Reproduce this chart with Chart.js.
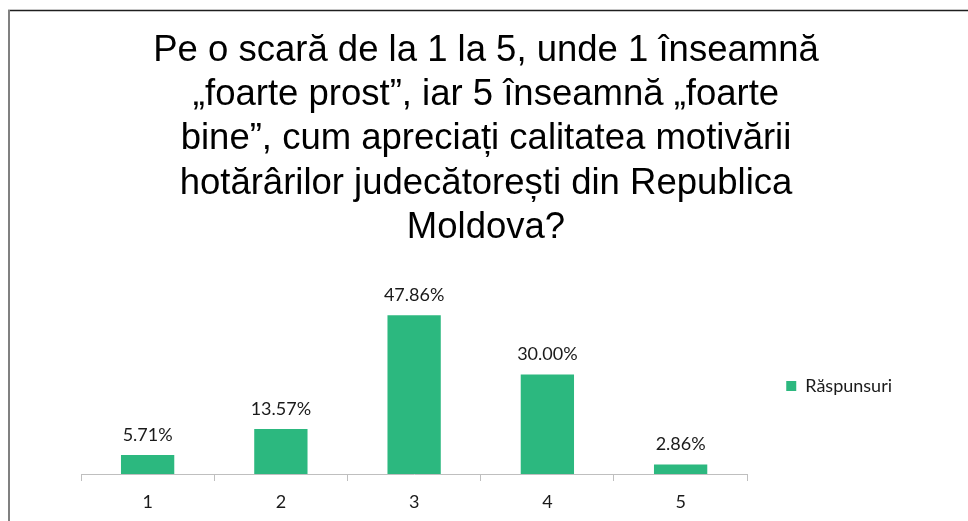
<!DOCTYPE html>
<html>
<head>
<meta charset="utf-8">
<script src="https://cdn.jsdelivr.net/npm/chart.js@4.4.1/dist/chart.umd.min.js"></script>
<style>
  html, body { margin: 0; padding: 0; background: #ffffff; }
  #wrap { width: 968px; height: 521px; position: relative; }
</style>
</head>
<body>
<div id="wrap"><canvas id="c" width="968" height="521"></canvas></div>
<script>
const titleLines = [
  "Pe o scară de la 1 la 5, unde 1 înseamnă",
  "„foarte prost”, iar 5 înseamnă „foarte",
  "bine”, cum apreciați calitatea motivării",
  "hotărârilor judecătorești din Republica",
  "Moldova?"
];
const categories = ["1", "2", "3", "4", "5"];
const seriesName = "Răspunsuri";
const values = [5.71, 13.57, 47.86, 30.00, 2.86];

const GREEN = "#2CB87F";

const frame = {
  id: "frame",
  beforeDraw(chart) {
    const ctx = chart.ctx;
    ctx.save();
    ctx.fillStyle = "#ffffff";
    ctx.fillRect(0, 0, chart.width, chart.height);
    ctx.strokeStyle = "#1e1e1e";
    ctx.lineWidth = 1.5;
    ctx.beginPath();
    ctx.moveTo(8, 10.5);
    ctx.lineTo(chart.width, 10.5);
    ctx.stroke();
    ctx.strokeStyle = "#808080";
    ctx.lineWidth = 2;
    ctx.beginPath();
    ctx.moveTo(9, 10);
    ctx.lineTo(9, chart.height);
    ctx.stroke();
    // title
    ctx.fillStyle = "#000000";
    ctx.font = "36.5px 'Liberation Sans', Arial, sans-serif";
    ctx.textAlign = "center";
    ctx.textBaseline = "middle";
    titleLines.forEach((t, i) => ctx.fillText(t, 486, 51 + i * 44.2));
    ctx.restore();
  }
};

const valueLabels = {
  id: "valueLabels",
  afterDatasetsDraw(chart) {
    const ctx = chart.ctx;
    ctx.save();
    ctx.font = "18px Lato";
    ctx.fillStyle = "#1a1a1a";
    ctx.textAlign = "center";
    ctx.textBaseline = "middle";
    chart.getDatasetMeta(0).data.forEach((el, i) => {
      ctx.fillText(values[i].toFixed(2) + "%", el.x, el.y - 20);
    });
    ctx.restore();
  }
};

new Chart(document.getElementById("c"), {
  type: "bar",
  data: {
    labels: categories,
    datasets: [{
      label: seriesName,
      data: values,
      backgroundColor: GREEN,
      borderWidth: 0,
      barPercentage: 0.4,
      categoryPercentage: 1.0
    }]
  },
  options: {
    responsive: false,
    animation: false,
    devicePixelRatio: 1,
    layout: { padding: { left: 81, right: 66, top: 275, bottom: 0 } },
    plugins: {
      title: { display: false },
      legend: {
        display: true,
        position: "right",
        align: "start",
        title: { display: true, text: "", font: { size: 13, lineHeight: 1 }, padding: { top: 50, bottom: 0 } },
        labels: {
          boxWidth: 10,
          boxHeight: 10,
          color: "#1a1a1a",
          font: { family: "Lato", size: 18 },
          padding: 39
        }
      },
      tooltip: { enabled: false }
    },
    scales: {
      x: {
        type: "category",
        offset: true,
        afterFit(scale) { scale.height = 47; },
        grid: { offset: true, drawOnChartArea: false, drawTicks: true, tickLength: 7, color: "#bfbfbf" },
        border: { color: "#bfbfbf", width: 1 },
        ticks: { color: "#1a1a1a", font: { family: "Lato", size: 18 }, padding: 10 }
      },
      y: {
        display: false,
        min: 0,
        max: 60
      }
    }
  },
  plugins: [frame, valueLabels]
});
</script>
</body>
</html>
